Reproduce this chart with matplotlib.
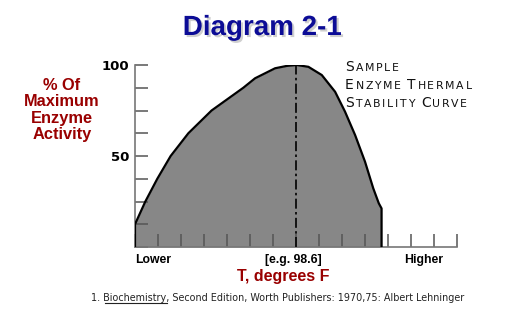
import matplotlib
matplotlib.use("Agg")
import matplotlib.pyplot as plt
import matplotlib.patheffects as pe
from matplotlib.offsetbox import TextArea, HPacker, VPacker, AnchoredOffsetbox
from matplotlib.lines import Line2D

# curve (x in tick steps, y in % of max activity)
temp_x = [0, 0.45, 0.97, 1.55, 2.32, 3.33, 4.71, 5.22, 6.09, 6.6, 7.03, 7.54, 8.12, 8.7, 9.13,
          9.57, 10.0, 10.36, 10.6, 10.72]
activity = [12.5, 25, 37.5, 50, 62.5, 75, 87.5, 92.7, 98.2, 99.5, 100, 99, 94.5, 85.3, 74.4,
            61.5, 46.9, 32.2, 24, 21.2]
peak_x = 7
x_ticks = list(range(0, 15))
y_ticks = [0, 12.5, 25, 37.5, 50, 62.5, 75, 87.5, 100]
y_labels = ['', '', '', '', '50', '', '', '', '100']
x_text = ['Lower', '[e.g. 98.6]', 'Higher']
x_text_pos = [0.8, 6.9, 12.55]
ylab_lines = ['% Of', 'Maximum', 'Enzyme', 'Activity']
note_lines = ['Sample', 'Enzyme Thermal', 'Stability Curve']
footnote = '1. Biochemistry, Second Edition, Worth Publishers: 1970,75: Albert Lehninger'

red = '#990000'
blue = '#0c0c96'
W, H = 508, 322

fig = plt.figure(figsize=(W / 100, H / 100), dpi=100)
ax = fig.add_axes([135 / W, (H - 247) / H, 322 / W, 182 / H])
ax.set_xlim(0, 14)
ax.set_ylim(0, 100)

# filled curve + outline with the vertical edges
ax.fill_between(temp_x, activity, 0, color='#878787', lw=0, zorder=1)
ax.plot([0] + temp_x + [temp_x[-1]], [0] + activity + [0], color='black', lw=1.6, zorder=3,
        solid_joinstyle='round')
ax.plot([peak_x, peak_x], [0, 100], color='black', lw=1.2, ls=(0, (6, 2, 1.5, 2)), zorder=3)

for s in ['top', 'right']:
    ax.spines[s].set_visible(False)
for s in ['left', 'bottom']:
    ax.spines[s].set_color('#777777')
    ax.spines[s].set_linewidth(1.2)
ax.set_xticks(x_ticks)
ax.set_xticklabels([])
ax.set_yticks(y_ticks)
ax.set_yticklabels(y_labels, fontfamily='DejaVu Sans', fontweight='bold', fontsize=9.5)
ax.tick_params(direction='in', length=9.5, width=1.1, color='#555555', pad=4)
ax.set_zorder(2)
for t in ax.get_xticklines() + ax.get_yticklines():
    t.set_zorder(4)

for lab, xp in zip(x_text, x_text_pos):
    ax.text(xp, -4, lab, ha='center', va='top', fontfamily='Liberation Sans',
            fontweight='bold', fontsize=8.8, clip_on=False)

fig.text(283 / W, 1 - 276 / H, 'T, degrees F', ha='center', va='center', color=red,
         fontfamily='Liberation Sans', fontweight='bold', fontsize=11.5)

for i, line in enumerate(ylab_lines):
    fig.text(62 / W, 1 - (86 + 16 * i) / H, line, ha='center', va='center', color=red,
             fontfamily='Liberation Sans', fontweight='bold', fontsize=11.8)

fig.text(262 / W, 1 - 28 / H, 'Diagram 2-1', ha='center', va='center', color=blue,
         fontfamily='Liberation Sans', fontweight='bold', fontsize=20,
         path_effects=[pe.SimplePatchShadow(offset=(1.5, -1.5), shadow_rgbFace='#777777', alpha=0.35),
                       pe.Normal()])

# small caps note
rows = []
for line in note_lines:
    boxes = []
    for word_i, word in enumerate(line.split(' ')):
        if word_i > 0:
            boxes.append(TextArea(' ', textprops=dict(fontsize=7.5)))
        for j, ch in enumerate(word):
            size = 10 if j == 0 else 7.8
            boxes.append(TextArea(ch.upper(), textprops=dict(fontsize=size, fontfamily='DejaVu Sans',
                                                            color='#111111')))
    rows.append(HPacker(children=boxes, align='baseline', pad=0, sep=1.2))
note = VPacker(children=rows, align='left', pad=0, sep=3)
ab = AnchoredOffsetbox(loc='upper left', child=note, bbox_to_anchor=(345 / W, 1 - 60 / H),
                       bbox_transform=fig.transFigure, frameon=False, pad=0, borderpad=0)
ax.add_artist(ab)

# footnote with underlined title
fs = 6.9
fy = 1 - 298 / H
ft = fig.text(278 / W, fy, footnote, ha='center', va='center', fontsize=fs,
              fontfamily='DejaVu Sans', color='#222222')
fig.canvas.draw()
r = fig.canvas.get_renderer()
bb = ft.get_window_extent(r)
tmp1 = fig.text(0, 0, '1. Biochemistry', fontsize=fs, fontfamily='DejaVu Sans')
tmp2 = fig.text(0, 0, 'Biochemistry', fontsize=fs, fontfamily='DejaVu Sans')
w2 = tmp1.get_window_extent(r).width
w3 = tmp2.get_window_extent(r).width
tmp1.remove()
tmp2.remove()
ux1 = bb.x0 + w2
ux0 = ux1 - w3 + 1
uy = bb.y0 + 0.5
fig.add_artist(Line2D([ux0 / W, ux1 / W], [uy / H, uy / H], transform=fig.transFigure,
                      color='#222222', lw=0.8))

fig.savefig('out.png', dpi=100)
